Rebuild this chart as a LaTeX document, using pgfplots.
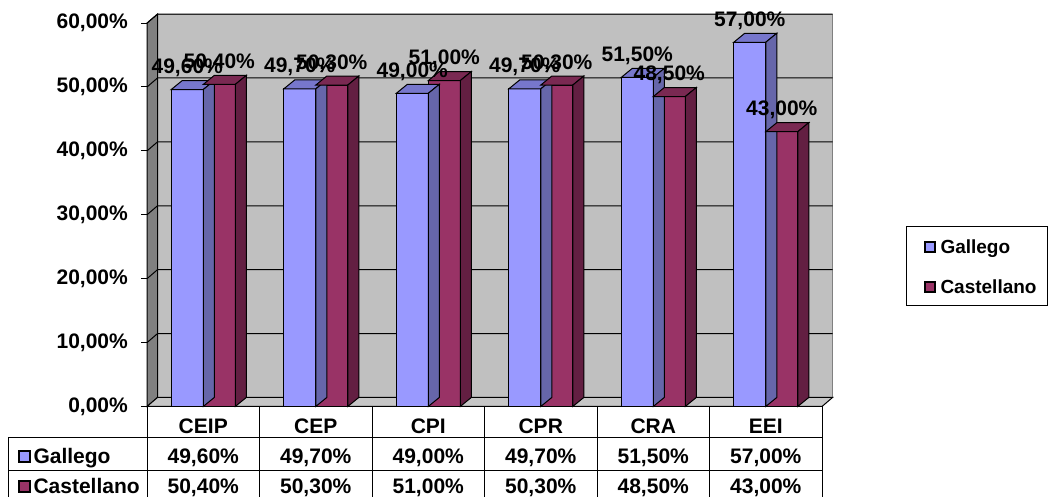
\documentclass[border=0pt]{standalone}
\usepackage{fontspec}
\setmainfont{Liberation Sans}
\usepackage{pgfplots}
\pgfplotsset{compat=1.18}
\pgfplotsset{/pgf/number format/assume math mode=true}

\definecolor{gfront}{HTML}{9999FF}
\definecolor{gtop}{HTML}{7777CC}
\definecolor{gside}{HTML}{6666AA}
\definecolor{cfront}{HTML}{993366}
\definecolor{ctop}{HTML}{7A2952}
\definecolor{cside}{HTML}{631F42}
\definecolor{wallback}{HTML}{C0C0C0}
\definecolor{wallleft}{HTML}{808080}
\definecolor{floorc}{HTML}{C6C6C6}

\newcommand\chartfont{\bfseries\fontsize{21pt}{25pt}\selectfont}
\newcommand\legendfont{\bfseries\fontsize{19pt}{23pt}\selectfont}
\newcommand\yunit{6.39}

% 3D top and side faces of the left (Gallego) bar, drawn at the category centre
\pgfdeclareplotmark{gbar3d}{%
  \pgfmathsetlengthmacro\bh{\barval*\yunit}%
  \pgfpathmoveto{\pgfpoint{-32pt}{0pt}}%
  \pgfpathlineto{\pgfpoint{0pt}{0pt}}%
  \pgfpathlineto{\pgfpoint{11pt}{9pt}}%
  \pgfpathlineto{\pgfpoint{-21pt}{9pt}}%
  \pgfpathclose
  \pgfsetfillcolor{gtop}\pgfusepathqfillstroke
  \pgfpathmoveto{\pgfpoint{0pt}{0pt}}%
  \pgfpathlineto{\pgfpoint{11pt}{9pt}}%
  \pgfpathlineto{\pgfpointadd{\pgfpoint{11pt}{9pt}}{\pgfpoint{0pt}{-\bh}}}%
  \pgfpathlineto{\pgfpoint{0pt}{-\bh}}%
  \pgfpathclose
  \pgfsetfillcolor{gside}\pgfusepathqfillstroke
}
% 3D top and side faces of the right (Castellano) bar
\pgfdeclareplotmark{cbar3d}{%
  \pgfmathsetlengthmacro\bh{\barval*\yunit}%
  \pgfpathmoveto{\pgfpoint{0pt}{0pt}}%
  \pgfpathlineto{\pgfpoint{32pt}{0pt}}%
  \pgfpathlineto{\pgfpoint{43pt}{9pt}}%
  \pgfpathlineto{\pgfpoint{11pt}{9pt}}%
  \pgfpathclose
  \pgfsetfillcolor{ctop}\pgfusepathqfillstroke
  \pgfpathmoveto{\pgfpoint{32pt}{0pt}}%
  \pgfpathlineto{\pgfpoint{43pt}{9pt}}%
  \pgfpathlineto{\pgfpointadd{\pgfpoint{43pt}{9pt}}{\pgfpoint{0pt}{-\bh}}}%
  \pgfpathlineto{\pgfpoint{32pt}{-\bh}}%
  \pgfpathclose
  \pgfsetfillcolor{cside}\pgfusepathqfillstroke
}

\begin{document}
\begin{tikzpicture}
\path[use as bounding box] (0pt,0pt) rectangle (1049pt,497pt);
\begin{axis}[
  at={(147pt,90.5pt)}, anchor=south west, scale only axis,
  width=675pt, height=383.4pt,
  xmin=-0.5, xmax=5.5, ymin=0, ymax=60,
  clip=false,
  axis x line=none, axis y line*=left,
  axis line style={black, line width=1pt},
  xtick=\empty,
  ytick={0,10,20,30,40,50,60},
  major tick length=0pt,
  yticklabel={\pgfmathprintnumber[fixed,fixed zerofill,precision=2,use comma]{\tick}\%},
  yticklabel style={anchor=east, inner sep=0pt, xshift=-19pt, font=\chartfont},
]
% walls and floor
\filldraw[fill=wallback, draw=wallleft, line width=1pt]
  ([shift={(10.5pt,9pt)}]axis cs:-0.5,0) rectangle ([shift={(10.5pt,9pt)}]axis cs:5.5,60);
\filldraw[fill=wallleft, draw=black, line width=1pt]
  (axis cs:-0.5,0) -- (axis cs:-0.5,60) -- ([shift={(10.5pt,9pt)}]axis cs:-0.5,60)
  -- ([shift={(10.5pt,9pt)}]axis cs:-0.5,0) -- cycle;
\filldraw[fill=floorc, draw=black, line width=1pt]
  (axis cs:-0.5,0) -- (axis cs:5.5,0) -- ([shift={(10.5pt,9pt)}]axis cs:5.5,0)
  -- ([shift={(10.5pt,9pt)}]axis cs:-0.5,0) -- cycle;
\pgfplotsinvokeforeach{10,20,30,40,50,60}{
  \draw[black, line width=1pt] (axis cs:-0.5,#1) -- ([shift={(10.5pt,9pt)}]axis cs:-0.5,#1)
    -- ([shift={(10.5pt,9pt)}]axis cs:5.5,#1);
}
\pgfplotsinvokeforeach{0,10,20,30,40,50,60}{
  \draw[black, line width=1pt] (axis cs:-0.5,#1) -- ([xshift=-6pt]axis cs:-0.5,#1);
}

% Gallego
\addplot[ybar, bar width=32pt, bar shift=-16pt, fill=gfront, draw=black, line width=1pt]
  coordinates {(0,49.6) (1,49.7) (2,49.0) (3,49.7) (4,51.5) (5,57.0)};
\addplot[only marks, mark=gbar3d, draw=black, line width=1pt, visualization depends on={y \as \barval}]
  coordinates {(0,49.6) (1,49.7) (2,49.0) (3,49.7) (4,51.5) (5,57.0)};
% Castellano
\addplot[ybar, bar width=32pt, bar shift=16pt, fill=cfront, draw=black, line width=1pt]
  coordinates {(0,50.4) (1,50.3) (2,51.0) (3,50.3) (4,48.5) (5,43.0)};
\addplot[only marks, mark=cbar3d, draw=black, line width=1pt, visualization depends on={y \as \barval}]
  coordinates {(0,50.4) (1,50.3) (2,51.0) (3,50.3) (4,48.5) (5,43.0)};

% value labels
\addplot[draw=none, mark=none, point meta=y,
  nodes near coords={\pgfmathprintnumber[fixed,fixed zerofill,precision=2,use comma]{\pgfplotspointmeta}\%},
  every node near coord/.append style={anchor=base, xshift=-16pt, yshift=16pt, inner sep=0pt, font=\chartfont, text=black}]
  coordinates {(0,49.6) (1,49.7) (2,49.0) (3,49.7) (4,51.5) (5,57.0)};
\addplot[draw=none, mark=none, point meta=y,
  nodes near coords={\pgfmathprintnumber[fixed,fixed zerofill,precision=2,use comma]{\pgfplotspointmeta}\%},
  every node near coord/.append style={anchor=base, xshift=16pt, yshift=16pt, inner sep=0pt, font=\chartfont, text=black}]
  coordinates {(0,50.4) (1,50.3) (2,51.0) (3,50.3) (4,48.5) (5,43.0)};
\end{axis}

\begin{scope}[x=1pt, y=1pt, line width=1pt]
% data table
\foreach \xx in {147,259.5,372,484.5,597,709.5,822} \draw (\xx,90.5) -- (\xx,-5);
\draw (8,59) -- (822,59);
\draw (8,26) -- (822,26);
\draw (8,59) -- (8,-5);
\foreach \nm [count=\i from 0] in {CEIP,CEP,CPI,CPR,CRA,EEI}
  \node[font=\chartfont, anchor=base, inner sep=0pt] at (203.25+112.5*\i,63) {\nm};
\foreach \vv [count=\i from 0] in {49,60\%, 49,70\%, 49,00\%, 49,70\%, 51,50\%, 57,00\%}
  {}
\node[font=\chartfont, anchor=base, inner sep=0pt] at (203.25,33) {49,60\%};
\node[font=\chartfont, anchor=base, inner sep=0pt] at (315.75,33) {49,70\%};
\node[font=\chartfont, anchor=base, inner sep=0pt] at (428.25,33) {49,00\%};
\node[font=\chartfont, anchor=base, inner sep=0pt] at (540.75,33) {49,70\%};
\node[font=\chartfont, anchor=base, inner sep=0pt] at (653.25,33) {51,50\%};
\node[font=\chartfont, anchor=base, inner sep=0pt] at (765.75,33) {57,00\%};
\node[font=\chartfont, anchor=base, inner sep=0pt] at (203.25,3) {50,40\%};
\node[font=\chartfont, anchor=base, inner sep=0pt] at (315.75,3) {50,30\%};
\node[font=\chartfont, anchor=base, inner sep=0pt] at (428.25,3) {51,00\%};
\node[font=\chartfont, anchor=base, inner sep=0pt] at (540.75,3) {50,30\%};
\node[font=\chartfont, anchor=base, inner sep=0pt] at (653.25,3) {48,50\%};
\node[font=\chartfont, anchor=base, inner sep=0pt] at (765.75,3) {43,00\%};
\filldraw[fill=gfront, draw=black, line width=1.4pt] (19,35) rectangle (30,46);
\node[font=\chartfont, anchor=base west, inner sep=0pt] at (33,33) {Gallego};
\filldraw[fill=cfront, draw=black, line width=1.4pt] (19,5) rectangle (30,16);
\node[font=\chartfont, anchor=base west, inner sep=0pt] at (33,3) {Castellano};
% legend
\draw[black, line width=1pt] (906,191) rectangle (1047,270);
\filldraw[fill=gfront, draw=black, line width=1.4pt] (925,245) rectangle (935,255);
\node[font=\legendfont, anchor=base west, inner sep=0pt] at (940,243) {Gallego};
\filldraw[fill=cfront, draw=black, line width=1.4pt] (925,205) rectangle (935,215);
\node[font=\legendfont, anchor=base west, inner sep=0pt] at (940,203) {Castellano};
\end{scope}
\end{tikzpicture}
\end{document}
